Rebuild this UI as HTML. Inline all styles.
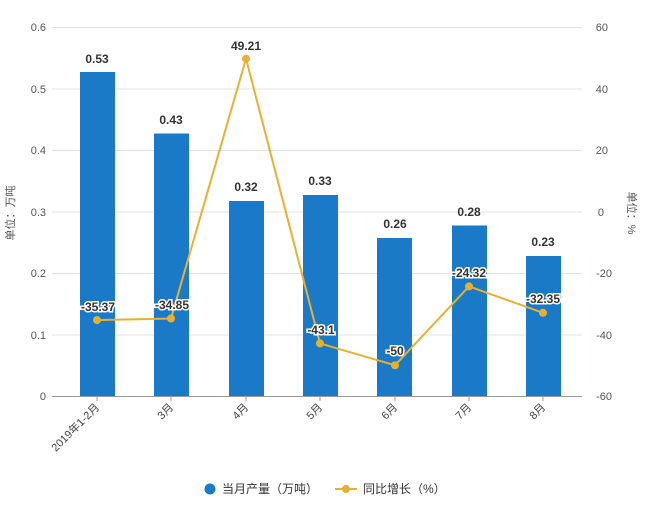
<!DOCTYPE html><html><head><meta charset="utf-8"><style>body{margin:0;background:#fff}svg text{font-family:"Liberation Sans","Noto Sans CJK SC",sans-serif}</style></head><body>
<svg width="649" height="501" xmlns="http://www.w3.org/2000/svg">
<g stroke="#e3e3e3" stroke-width="1">
<line x1="52" x2="582" y1="27.5" y2="27.5"/><line x1="52" x2="582" y1="89" y2="89"/><line x1="52" x2="582" y1="150.5" y2="150.5"/><line x1="52" x2="582" y1="212" y2="212"/><line x1="52" x2="582" y1="273.5" y2="273.5"/><line x1="52" x2="582" y1="335" y2="335"/>
</g>
<line x1="52" x2="582" y1="396.5" y2="396.5" stroke="#999"/>
<g font-size="11" fill="#555" text-anchor="end">
<text x="46" y="31">0.6</text><text x="46" y="93">0.5</text><text x="46" y="154">0.4</text><text x="46" y="216">0.3</text><text x="46" y="277">0.2</text><text x="46" y="339">0.1</text><text x="46" y="400">0</text>
</g>
<g font-size="11" fill="#555" text-anchor="end">
<text x="608" y="31">60</text><text x="608" y="93">40</text><text x="608" y="154">20</text><text x="604" y="216">0</text><text x="612" y="277">-20</text><text x="612" y="339">-40</text><text x="612" y="400">-60</text>
</g>
<text transform="translate(14,213) rotate(-90)" font-size="11" fill="#555" text-anchor="middle">单位：万吨</text>
<text transform="translate(628,213) rotate(90)" font-size="11" fill="#555" text-anchor="middle">单位：%</text>
<g fill="#1a7ac8">
<rect x="80" y="72" width="35" height="324"/><rect x="154" y="133.5" width="35" height="262.5"/><rect x="229" y="201" width="35" height="195"/><rect x="303" y="195" width="35" height="201"/><rect x="377" y="238" width="35" height="158"/><rect x="452" y="225.5" width="35" height="170.5"/><rect x="526" y="256" width="35" height="140"/>
</g>
<g font-size="12" font-weight="bold" fill="#333" text-anchor="middle">
<text x="97" y="63">0.53</text><text x="171" y="124">0.43</text><text x="246" y="191">0.32</text><text x="320" y="185">0.33</text><text x="395" y="228">0.26</text><text x="469" y="216">0.28</text><text x="543" y="246">0.23</text>
</g>
<g stroke="#999"><line x1="97" x2="97" y1="396" y2="401"/><line x1="171" x2="171" y1="396" y2="401"/><line x1="246" x2="246" y1="396" y2="401"/><line x1="320" x2="320" y1="396" y2="401"/><line x1="395" x2="395" y1="396" y2="401"/><line x1="469" x2="469" y1="396" y2="401"/><line x1="543" x2="543" y1="396" y2="401"/></g>
<g font-size="11" fill="#444" text-anchor="end">
<text transform="translate(100,408) rotate(-45)">2019年1-2月</text>
<text transform="translate(174,408) rotate(-45)">3月</text>
<text transform="translate(249,408) rotate(-45)">4月</text>
<text transform="translate(323,408) rotate(-45)">5月</text>
<text transform="translate(398,408) rotate(-45)">6月</text>
<text transform="translate(472,408) rotate(-45)">7月</text>
<text transform="translate(546,408) rotate(-45)">8月</text>
</g>
<polyline fill="none" stroke="#e8b030" stroke-width="2" points="97,320.1 171,318.5 246,58.7 320,343.4 395,365.3 469,286.4 543,312.8"/>
<g fill="#e8b030"><circle cx="97" cy="320.1" r="4"/><circle cx="171" cy="318.5" r="4"/><circle cx="246" cy="58.7" r="4"/><circle cx="320" cy="343.4" r="4"/><circle cx="395" cy="365.3" r="4"/><circle cx="469" cy="286.4" r="4"/><circle cx="543" cy="312.8" r="4"/></g>
<g font-size="12" font-weight="bold" fill="#333" text-anchor="middle" stroke="#fff" stroke-width="3" paint-order="stroke">
<text x="98" y="311">-35.37</text><text x="172" y="309">-34.85</text><text x="246" y="50">49.21</text><text x="321" y="334">-43.1</text><text x="395" y="355">-50</text><text x="469" y="277">-24.32</text><text x="543" y="303">-32.35</text>
</g>
<circle cx="210" cy="489" r="5.5" fill="#1a7ac8"/>
<text x="222" y="493" font-size="12" fill="#333">当月产量（万吨）</text>
<line x1="335" x2="357" y1="489" y2="489" stroke="#e8b030" stroke-width="2"/><circle cx="346" cy="489" r="4" fill="#e8b030"/>
<text x="363" y="493" font-size="12" fill="#333">同比增长（%）</text>
</svg></body></html>
